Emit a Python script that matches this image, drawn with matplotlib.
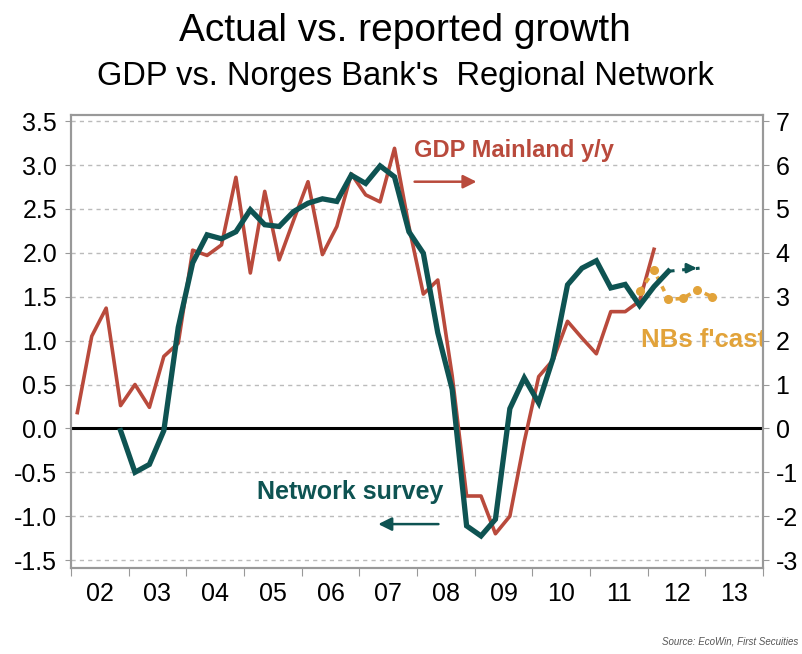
import numpy as np
import matplotlib
matplotlib.use("Agg")
from matplotlib import pyplot as plt

plt.rcParams['font.family'] = ['Liberation Sans', 'DejaVu Sans']
plt.rcParams['axes.unicode_minus'] = False

# GDP Mainland y/y, quarterly from 2002Q1 (left axis)
gdp_values = [0.18, 1.05, 1.37, 0.26, 0.50, 0.24, 0.82, 0.97,
              2.03, 1.97, 2.09, 2.86, 1.77, 2.70, 1.92, 2.37,
              2.81, 1.98, 2.30, 2.90, 2.66, 2.58, 3.19, 2.30,
              1.53, 1.69, 0.60, -0.77, -0.77, -1.20, -1.00, -0.15,
              0.59, 0.78, 1.22, 1.03, 0.85, 1.33, 1.33, 1.45, 2.04]
gdp_first = 2002.11

# Regional network survey, quarterly from 2002Q4 (right axis)
net_values = [-0.05, -1.00, -0.82, -0.05, 2.30,
              3.77, 4.41, 4.32, 4.48, 4.98, 4.64, 4.60, 4.94,
              5.13, 5.23, 5.17, 5.77, 5.58, 5.98, 5.73, 4.48,
              3.99, 2.18, 0.89, -2.22, -2.45, -2.07, 0.45, 1.15,
              0.58, 1.60, 3.27, 3.65, 3.82, 3.20, 3.28, 2.80,
              3.23, 3.58]
net_first = 2002.86
net_ext_y = [3.58, 3.65]
net_ext_x = [2012.36, 2012.90]

# Norges Bank forecast (left axis)
nb_values = [1.56, 1.80, 1.47, 1.48, 1.58, 1.50]
nb_first = 2011.86

year_labels = ['02', '03', '04', '05', '06', '07', '08', '09', '10', '11', '12', '13']

red = '#B94A3C'
teal = '#0E5352'
orange = '#E2A33A'

gdp_x = gdp_first + 0.25 * np.arange(len(gdp_values))
net_x = net_first + 0.25 * np.arange(len(net_values))
nb_x = nb_first + 0.25 * np.arange(len(nb_values))

fig = plt.figure(figsize=(8.02, 6.54), dpi=100)
ax = fig.add_axes([0.0885, 0.1315, 0.8629, 0.6927])
ax2 = ax.twinx()

ax.set_xlim(2002, 2014)
ax.set_ylim(-1.59, 3.57)
ax2.set_ylim(-3.18, 7.14)

# grid + zero line
for v in np.arange(-1.5, 3.51, 0.5):
    if abs(v) > 1e-9:
        ax.axhline(v, color='#BBBBBB', lw=1.0, ls=(0, (3, 3)), zorder=0)
ax.axhline(0, color='black', lw=2.2, zorder=1)

ax.plot(gdp_x, gdp_values, color=red, lw=2.6, zorder=3)
ax.plot(nb_x, nb_values, color=orange, lw=2.6, ls=(0, (1.5, 1.5)),
        marker='o', ms=5.5, zorder=3)
ax2.plot(net_x, net_values, color=teal, lw=3.8, zorder=4, solid_joinstyle='miter')
ax2.plot(net_ext_x, net_ext_y, color=teal, lw=2.2, ls=(0, (2, 2.5)))
ax2.annotate('', xy=(net_ext_x[1], net_ext_y[1]), xytext=(net_ext_x[1] - 0.2, net_ext_y[1]),
             arrowprops=dict(arrowstyle='-|>', color=teal, lw=2, mutation_scale=14))
ax2.set_zorder(ax.get_zorder() + 1)
ax2.patch.set_visible(False)

# annotations
ax.text(2007.94, 3.17, 'GDP Mainland y/y', color=red, fontsize=17,
        fontweight='bold', va='center', ha='left')
ax.annotate('', xy=(2009.08, 2.81), xytext=(2007.91, 2.81),
            arrowprops=dict(arrowstyle='-|>', color=red, lw=1.8, mutation_scale=20))
ax.text(2005.23, -0.72, 'Network survey', color=teal, fontsize=18,
        fontweight='bold', va='center', ha='left')
ax.annotate('', xy=(2007.28, -1.09), xytext=(2008.42, -1.09),
            arrowprops=dict(arrowstyle='-|>', color=teal, lw=1.8, mutation_scale=20))
ax.text(2011.89, 1.01, "NBs f'cast", color=orange, fontsize=18.5,
        fontweight='bold', va='center', ha='left', clip_on=True)

# axes styling
ax.set_yticks(np.arange(-1.5, 3.51, 0.5))
ax.set_yticklabels(['%.1f' % v for v in np.arange(-1.5, 3.51, 0.5)])
ax2.set_yticks(range(-3, 8))
ax.set_xticks(range(2002, 2015))
ax.set_xticklabels([])
ax.set_xticks(np.arange(2002.5, 2014, 1), minor=True)
ax.set_xticklabels(year_labels, minor=True)
ax.tick_params(axis='x', which='minor', length=0, labelsize=18, pad=10)
ax.tick_params(axis='x', which='major', length=6, color='#999999')
ax.tick_params(axis='y', labelsize=18, length=4, color='#999999', pad=6)
ax2.tick_params(axis='y', labelsize=18, length=4, color='#999999', pad=5)
for a in (ax, ax2):
    for s in a.spines.values():
        s.set_color('#999999')
        s.set_linewidth(1.5)

fig.text(0.505, 0.953, 'Actual vs. reported growth', ha='center', va='center', fontsize=28)
fig.text(0.505, 0.883, "GDP vs. Norges Bank's  Regional Network", ha='center', va='center', fontsize=23.5)
fig.text(0.995, 0.011, 'Source: EcoWin, First Secuities', ha='right', va='bottom',
         fontsize=7, style='italic', color='#555555')

fig.savefig('out.png', dpi=100)
